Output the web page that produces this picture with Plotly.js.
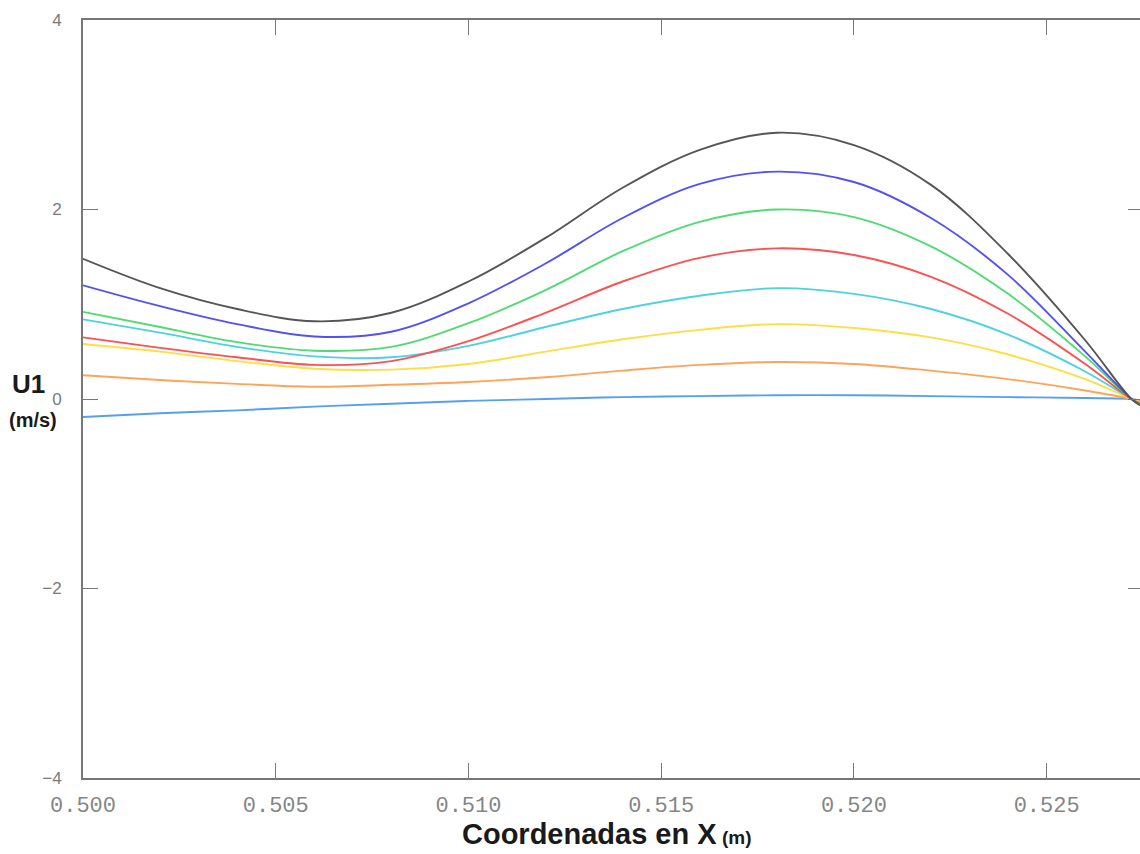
<!DOCTYPE html>
<html>
<head>
<meta charset="utf-8">
<script src="https://cdn.plot.ly/plotly-3.0.1.min.js"></script>
<style>
html, body { margin: 0; padding: 0; overflow: hidden; background: #fff; }
#chart { width: 1143px; height: 854px; }
</style>
</head>
<body>
<div id="chart"></div>
<script>
// X coordinates (m)
var xCoords = [0.500, 0.502, 0.504, 0.506, 0.508, 0.510, 0.512, 0.514, 0.516, 0.518, 0.520, 0.522, 0.524, 0.526, 0.5272, 0.52745];

// U1 (m/s) series
var uBlack  = [1.48, 1.17, 0.95, 0.82, 0.91, 1.24, 1.70, 2.23, 2.63, 2.81, 2.68, 2.26, 1.53, 0.62, 0.00, -0.07];
var uBlue   = [1.20, 0.98, 0.79, 0.66, 0.71, 1.01, 1.43, 1.91, 2.27, 2.40, 2.29, 1.91, 1.31, 0.50, 0.00, -0.07];
var uGreen  = [0.92, 0.76, 0.60, 0.51, 0.55, 0.80, 1.15, 1.56, 1.87, 2.00, 1.92, 1.61, 1.11, 0.45, 0.00, -0.06];
var uRed    = [0.65, 0.54, 0.44, 0.36, 0.40, 0.61, 0.91, 1.24, 1.49, 1.59, 1.52, 1.29, 0.90, 0.37, 0.00, -0.05];
var uCyan   = [0.84, 0.70, 0.55, 0.45, 0.44, 0.56, 0.76, 0.95, 1.09, 1.17, 1.11, 0.95, 0.68, 0.29, 0.00, -0.05];
var uYellow = [0.58, 0.50, 0.40, 0.32, 0.31, 0.37, 0.50, 0.63, 0.73, 0.79, 0.75, 0.65, 0.47, 0.21, 0.00, -0.04];
var uOrange = [0.25, 0.20, 0.16, 0.13, 0.15, 0.18, 0.23, 0.30, 0.36, 0.39, 0.37, 0.30, 0.21, 0.09, 0.00, -0.03];
var uLtBlue = [-0.19, -0.15, -0.12, -0.08, -0.05, -0.02, 0.00, 0.02, 0.03, 0.04, 0.04, 0.03, 0.02, 0.01, 0.00, -0.02];

var seriesList = [uLtBlue, uOrange, uYellow, uCyan, uRed, uGreen, uBlue, uBlack];
var seriesColors = ['#55a0ee', '#ffa358', '#ffdd44', '#4cd2e2', '#ff5050', '#4edc70', '#5252f2', '#555555'];

var xTickVals = [0.500, 0.505, 0.510, 0.515, 0.520, 0.525];
var xTickText = ['0.500', '0.505', '0.510', '0.515', '0.520', '0.525'];
var yTickVals = [-4, -2, 0, 2, 4];
var yTickText = ['\u22124', '\u22122', '0', '2', '4'];

var traces = seriesList.map(function (ys, i) {
  return {
    x: xCoords,
    y: ys,
    type: 'scatter',
    mode: 'lines',
    line: { color: seriesColors[i], width: 1.9, shape: 'spline', smoothing: 1 },
    hoverinfo: 'skip',
    showlegend: false
  };
});

var axisCommon = {
  showgrid: false,
  zeroline: false,
  showline: true,
  linecolor: '#777777',
  linewidth: 2,
  mirror: 'ticks',
  ticks: 'inside',
  ticklen: 15,
  tickwidth: 1,
  tickcolor: '#777777'
};

var layout = {
  width: 1143,
  height: 854,
  margin: { l: 83, r: 0, t: 20, b: 76 },
  paper_bgcolor: '#ffffff',
  plot_bgcolor: '#ffffff',
  xaxis: Object.assign({}, axisCommon, {
    range: [0.5, 0.5275],
    tickmode: 'array',
    tickvals: xTickVals,
    ticktext: xTickText,
    ticklabelstandoff: 6,
    tickfont: { family: 'Liberation Mono, Courier New, monospace', size: 22, color: '#858585' }
  }),
  yaxis: Object.assign({}, axisCommon, {
    range: [-4, 4],
    tickmode: 'array',
    tickvals: yTickVals,
    ticktext: yTickText,
    ticklabelstandoff: 16,
    tickfont: { family: 'Liberation Sans, Arial, sans-serif', size: 17, color: '#7a7a7a' }
  }),
  annotations: [
    {
      xref: 'paper', yref: 'paper', x: 0.4934, y: -0.074,
      xanchor: 'center', yanchor: 'middle', showarrow: false,
      text: '<b>Coordenadas en X</b><b><span style="font-size:19px"> (m)</span></b>',
      font: { family: 'Liberation Sans, Arial, sans-serif', size: 29, color: '#1a1a1a' }
    },
    {
      xref: 'paper', yref: 'paper', x: -0.051, y: 0.5198,
      xanchor: 'center', yanchor: 'middle', showarrow: false,
      text: '<b>U1</b>',
      font: { family: 'Liberation Sans, Arial, sans-serif', size: 26, color: '#1a1a1a' }
    },
    {
      xref: 'paper', yref: 'paper', x: -0.047, y: 0.4723,
      xanchor: 'center', yanchor: 'middle', showarrow: false,
      text: '<b>(m/s)</b>',
      font: { family: 'Liberation Sans, Arial, sans-serif', size: 20, color: '#1a1a1a' }
    }
  ]
};

Plotly.newPlot('chart', traces, layout, { staticPlot: true, displayModeBar: false });
</script>
</body>
</html>
